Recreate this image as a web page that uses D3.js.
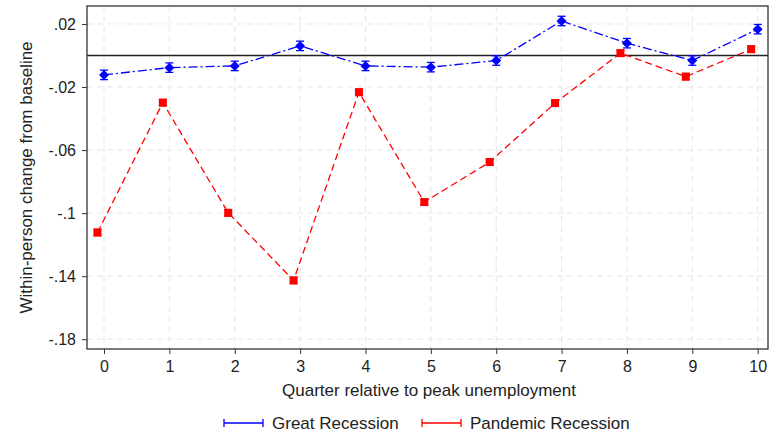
<!DOCTYPE html>
<html>
<head>
<meta charset="utf-8">
<script src="https://cdn.jsdelivr.net/npm/d3@7"></script>
<style>
  html, body { margin: 0; padding: 0; background: #fff; }
  svg { display: block; font-family: "Liberation Sans", Arial, Helvetica, sans-serif; }
</style>
</head>
<body>
<svg id="chart" width="778" height="436"></svg>
<script>
// Quarters relative to peak unemployment
const quarters = [0, 1, 2, 3, 4, 5, 6, 7, 8, 9, 10];

// Great Recession estimates and 95% CI half-widths
const greatValues = [-0.0123, -0.0077, -0.0066, 0.0061, -0.0066, -0.0074, -0.0032, 0.0219, 0.0078, -0.0032, 0.0167];
const greatCI     = [0.003, 0.003, 0.003, 0.003, 0.003, 0.003, 0.003, 0.003, 0.003, 0.003, 0.003];

// Pandemic Recession estimates and 95% CI half-widths
const pandemicValues = [-0.1123, -0.0299, -0.0998, -0.1427, -0.0233, -0.0930, -0.0676, -0.0302, 0.0015, -0.0134, 0.0040];
const pandemicCI     = [0.002, 0.002, 0.002, 0.002, 0.002, 0.002, 0.002, 0.002, 0.002, 0.002, 0.002];

const yTicks = [0.02, -0.02, -0.06, -0.1, -0.14, -0.18];
const yTickLabels = [".02", "-.02", "-.06", "-.1", "-.14", "-.18"];
const seriesNames = ["Great Recession", "Pandemic Recession"];

const svg = d3.select("#chart");
const plotLeft = 87, plotRight = 768, plotTop = 6, plotBottom = 349;

const x = d3.scaleLinear().domain([0, 10]).range([104, 757.7]);
const y = d3.scaleLinear().domain([-0.1862, 0.0314]).range([plotBottom, plotTop]);

// background grid
const grid = svg.append("g");
grid.selectAll("line.v").data(quarters).enter().append("line")
  .attr("x1", d => x(d)).attr("x2", d => x(d))
  .attr("y1", plotTop).attr("y2", plotBottom)
  .attr("stroke", "#e6e6e6").attr("stroke-width", 1).attr("stroke-dasharray", "6,4");
grid.selectAll("line.h").data(yTicks).enter().append("line")
  .attr("x1", plotLeft).attr("x2", plotRight)
  .attr("y1", d => y(d)).attr("y2", d => y(d))
  .attr("stroke", "#e6e6e6").attr("stroke-width", 1).attr("stroke-dasharray", "6,4");

// zero reference line
svg.append("line")
  .attr("x1", plotLeft).attr("x2", plotRight)
  .attr("y1", y(0)).attr("y2", y(0))
  .attr("stroke", "#222").attr("stroke-width", 1.3);

// axes
const yAxis = d3.axisLeft(y).tickValues(yTicks).tickFormat((d, i) => yTickLabels[i]).tickSize(5).tickPadding(6);
const gy = svg.append("g").attr("transform", `translate(${plotLeft},0)`).call(yAxis);
const xAxis = d3.axisBottom(x).tickValues(quarters).tickFormat(d3.format("d")).tickSize(5).tickPadding(7);
const gx = svg.append("g").attr("transform", `translate(0,${plotBottom})`).call(xAxis);
[gx, gy].forEach(g => {
  g.select(".domain").remove();
  g.selectAll(".tick line").attr("stroke", "#333");
  g.selectAll("text").attr("fill", "#222").style("font-size", "16px");
});

// plot frame
svg.append("rect")
  .attr("x", plotLeft).attr("y", plotTop)
  .attr("width", plotRight - plotLeft).attr("height", plotBottom - plotTop)
  .attr("fill", "none").attr("stroke", "#333").attr("stroke-width", 1.3);

// axis titles
svg.append("text")
  .attr("x", 429).attr("y", 396)
  .attr("text-anchor", "middle").attr("fill", "#222")
  .style("font-size", "17px")
  .text("Quarter relative to peak unemployment");
svg.append("text")
  .attr("transform", `translate(32,${(plotTop + plotBottom) / 2}) rotate(-90)`)
  .attr("text-anchor", "middle").attr("fill", "#222")
  .style("font-size", "17px")
  .text("Within-person change from baseline");

function drawSeries(vals, ci, offset, color, dash, marker) {
  const g = svg.append("g");
  const pts = quarters.map((q, i) => ({ q: q + offset, v: vals[i], e: ci[i] }));
  g.append("path")
    .datum(pts)
    .attr("d", d3.line().x(d => x(d.q)).y(d => y(d.v)))
    .attr("fill", "none").attr("stroke", color).attr("stroke-width", 1.3)
    .attr("stroke-dasharray", dash);
  // confidence intervals with caps
  const eb = g.selectAll("g.eb").data(pts).enter().append("g");
  eb.append("line")
    .attr("x1", d => x(d.q)).attr("x2", d => x(d.q))
    .attr("y1", d => y(d.v - d.e)).attr("y2", d => y(d.v + d.e))
    .attr("stroke", color).attr("stroke-width", 1.3);
  [-1, 1].forEach(s => {
    eb.append("line")
      .attr("x1", d => x(d.q) - 4).attr("x2", d => x(d.q) + 4)
      .attr("y1", d => y(d.v + s * d.e)).attr("y2", d => y(d.v + s * d.e))
      .attr("stroke", color).attr("stroke-width", 1.3);
  });
  if (marker === "diamond") {
    g.selectAll("path.m").data(pts).enter().append("path")
      .attr("d", d => `M${x(d.q)},${y(d.v) - 5}L${x(d.q) + 5},${y(d.v)}L${x(d.q)},${y(d.v) + 5}L${x(d.q) - 5},${y(d.v)}Z`)
      .attr("fill", color);
  } else {
    g.selectAll("rect.m").data(pts).enter().append("rect")
      .attr("x", d => x(d.q) - 4).attr("y", d => y(d.v) - 4)
      .attr("width", 8).attr("height", 8)
      .attr("fill", color);
  }
}

drawSeries(pandemicValues, pandemicCI, -0.1, "#ff0000", "7,4", "square");
drawSeries(greatValues, greatCI, 0, "#0000ff", "9,3,2,3", "diamond");

// legend
const legendItems = [
  { name: seriesNames[0], color: "#0000ff", x: 224, tx: 272 },
  { name: seriesNames[1], color: "#ff0000", x: 422, tx: 470 }
];
const lg = svg.append("g");
legendItems.forEach(it => {
  const ly = 423;
  lg.append("line").attr("x1", it.x).attr("x2", it.x + 39).attr("y1", ly).attr("y2", ly)
    .attr("stroke", it.color).attr("stroke-width", 1.5);
  [it.x, it.x + 39].forEach(cx => lg.append("line")
    .attr("x1", cx).attr("x2", cx).attr("y1", ly - 4).attr("y2", ly + 4)
    .attr("stroke", it.color).attr("stroke-width", 1.3));
  lg.append("text").attr("x", it.tx).attr("y", 429)
    .attr("fill", "#222").style("font-size", "17px").text(it.name);
});
</script>
</body>
</html>
